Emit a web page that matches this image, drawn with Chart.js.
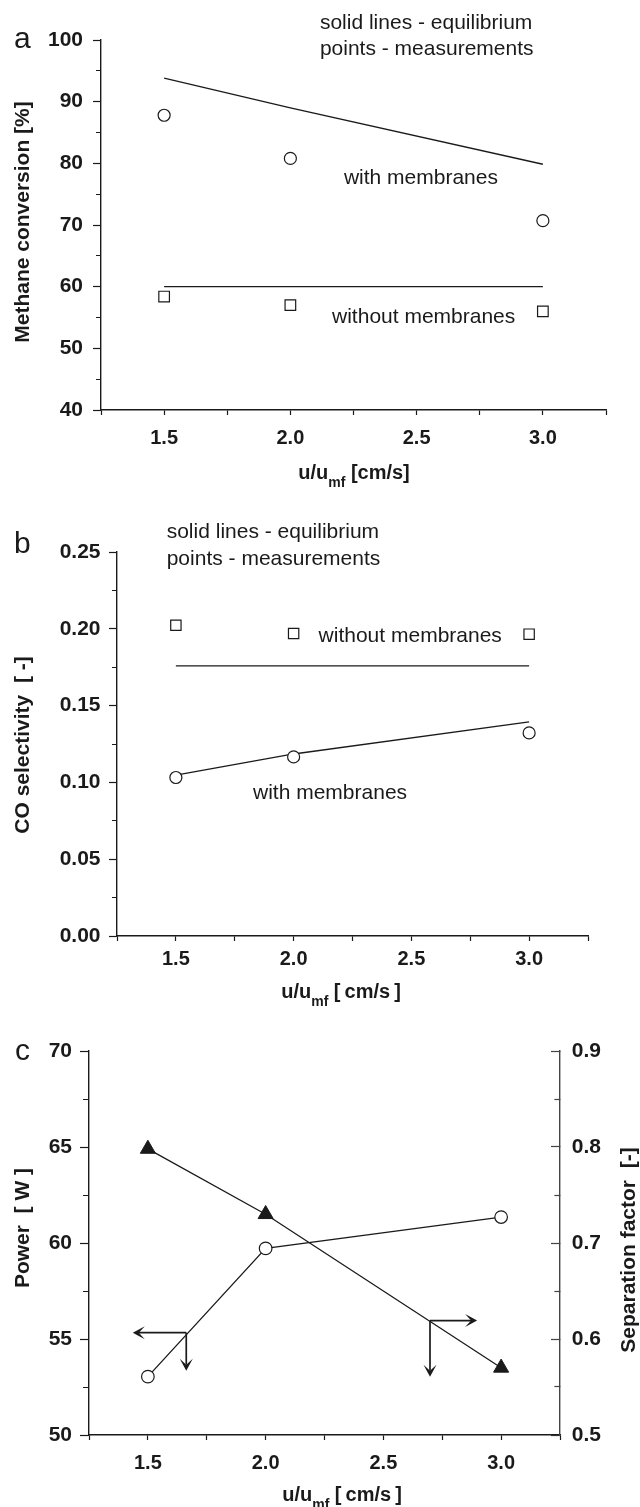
<!DOCTYPE html>
<html lang="en">
<head>
<meta charset="UTF-8">
<title>Methane conversion, CO selectivity and power vs u/umf</title>
<script src="https://cdn.jsdelivr.net/npm/chart.js"></script>
<style>
  body { margin: 0; background: #fff; }
  #wrap { position: relative; width: 640px; height: 1507px; overflow: hidden; }
  canvas { position: absolute; left: 0; }
</style>
</head>
<body>
<div id="wrap">
  <canvas id="chartA" width="640" height="500" style="top:0px"></canvas>
  <canvas id="chartB" width="640" height="512" style="top:500px"></canvas>
  <canvas id="chartC" width="640" height="502" style="top:1005px"></canvas>
</div>

<script>
// shared x values, u/umf
const uVals = [1.5, 2.0, 3.0];

// (a) methane conversion [%]
const convWithMeas = [87.8, 80.8, 70.7];
const convWithoutMeas = [58.4, 57.0, 56.0];
const convWithEq = [93.8, 89.0, 79.85];
const convWithoutEq = [60.0, 60.0, 60.0];

// (b) CO selectivity [-]
const coWithoutMeas = [0.2023, 0.1969, 0.1965];
const coWithMeas = [0.1032, 0.1166, 0.1322];
const coWithoutEq = [0.1758, 0.1758, 0.1758];
const coWithEq = [0.1047, 0.1185, 0.1394];

// (c) power [W] and separation factor [-]
const power = [53.04, 59.72, 61.35];
const sepFactor = [0.798, 0.730, 0.570];

const fam = "'Liberation Sans', Arial, Helvetica, sans-serif";
const ink = '#1a1a1a';
Chart.defaults.font.family = fam;
Chart.defaults.color = ink;

const pts = (xs, ys) => xs.map((x, i) => ({ x: x, y: ys[i] }));

function markers(data, style, r, fill, axis) {
  return {
    data: data, showLine: false, yAxisID: axis || 'y',
    pointStyle: style, pointRadius: r, pointHoverRadius: r,
    pointBackgroundColor: fill, pointBorderColor: ink, pointBorderWidth: 1.2
  };
}
function curve(data, axis, pointOpts) {
  return Object.assign({
    data: data, showLine: true, yAxisID: axis || 'y',
    borderColor: ink, borderWidth: 1.3, pointRadius: 0, fill: false
  }, pointOpts || {});
}

function xAxis(h, pad) {
  return {
    type: 'linear', min: 1.25, max: 3.25,
    border: { color: ink, width: 1.4 },
    grid: { drawOnChartArea: false, tickLength: 5, tickWidth: 1.2, tickColor: ink },
    ticks: {
      stepSize: 0.25, autoSkip: false, maxRotation: 0, padding: pad, color: ink,
      font: { size: 20, weight: 'bold' },
      callback: v => Math.abs(v * 2 - Math.round(v * 2)) < 1e-6 ? v.toFixed(1) : ''
    },
    afterFit: s => { s.height = h; }
  };
}

// y axis; isMajor decides label + long tick, minor ticks are cut with a dash
function yAxis(o) {
  const inward = o.position === 'right';
  return {
    type: 'linear', position: o.position || 'left', min: o.min, max: o.max,
    border: { color: o.borderColor || ink, width: 1.4 },
    grid: {
      drawOnChartArea: false, tickLength: inward ? -o.tl : o.tl, tickWidth: 1.2,
      tickColor: o.borderColor || ink,
      tickBorderDash: c => {
        if (o.isMajor(c.tick.value)) return [];
        return inward ? [o.minor, 60] : [0, o.tl - o.minor, 60];
      }
    },
    ticks: {
      stepSize: o.step, autoSkip: false, padding: o.pad, color: ink,
      font: { size: 21, weight: 'bold' },
      callback: v => o.isMajor(v) ? o.fmt(v) : ''
    },
    afterFit: s => { s.width = o.w; }
  };
}

function arrowHead(ctx, x, y, dx, dy) {
  const len = Math.hypot(dx, dy), ux = dx / len, uy = dy / len;
  const L = 12, W = 6.5, N = 6;
  ctx.beginPath();
  ctx.moveTo(x, y);
  ctx.lineTo(x - ux * L - uy * W, y - uy * L + ux * W);
  ctx.lineTo(x - ux * N, y - uy * N);
  ctx.lineTo(x - ux * L + uy * W, y - uy * L - ux * W);
  ctx.closePath();
  ctx.fill();
}

// titles, panel letter, notes and arrows
const deco = {
  id: 'deco',
  afterDraw(chart, args, o) {
    const ctx = chart.ctx;
    ctx.save();
    ctx.fillStyle = ink;
    ctx.strokeStyle = ink;
    ctx.textBaseline = 'alphabetic';
    ctx.textAlign = 'left';
    ctx.font = '30px ' + fam;
    ctx.fillText(o.letter[0], o.letter[1], o.letter[2]);

    for (const t of o.yTitles) {
      ctx.save();
      ctx.translate(t.x, t.y);
      ctx.rotate(-Math.PI / 2);
      ctx.font = 'bold 21px ' + fam;
      ctx.textAlign = 'center';
      ctx.textBaseline = 'middle';
      ctx.fillText(t.text, 0, 0);
      ctx.restore();
    }

    const xt = o.xTitle;
    ctx.font = 'bold 20px ' + fam;
    const w1 = ctx.measureText('u/u').width;
    const w3 = ctx.measureText(xt.rest).width;
    ctx.font = 'bold 14px ' + fam;
    const w2 = ctx.measureText('mf').width;
    const x0 = xt.x - (w1 + w2 + w3) / 2;
    ctx.font = 'bold 20px ' + fam;
    ctx.fillText('u/u', x0, xt.y);
    ctx.fillText(xt.rest, x0 + w1 + w2, xt.y);
    ctx.font = 'bold 14px ' + fam;
    ctx.fillText('mf', x0 + w1, xt.y + 8);

    const xs = chart.scales.x, ys = chart.scales.y;
    ctx.font = '21px ' + fam;
    for (const n of o.notes || []) {
      ctx.fillText(n.text, xs.getPixelForValue(n.x), ys.getPixelForValue(n.y));
    }

    ctx.lineWidth = 1.7;
    for (const a of o.arrows || []) {
      const x1 = xs.getPixelForValue(a.from[0]), y1 = ys.getPixelForValue(a.from[1]);
      const x2 = xs.getPixelForValue(a.to[0]), y2 = ys.getPixelForValue(a.to[1]);
      ctx.beginPath();
      ctx.moveTo(x1, y1);
      ctx.lineTo(x2 - Math.sign(x2 - x1) * 6, y2 - Math.sign(y2 - y1) * 6);
      ctx.stroke();
      arrowHead(ctx, x2, y2, x2 - x1, y2 - y1);
    }
    ctx.restore();
  }
};

const base = {
  responsive: false, animation: false, devicePixelRatio: 1,
  events: []
};

// (a)
new Chart(document.getElementById('chartA'), {
  type: 'scatter',
  data: {
    datasets: [
      markers(pts(uVals, convWithMeas), 'circle', 6, '#fff'),
      markers(pts(uVals, convWithoutMeas), 'rect', 7.5, '#fff'),
      curve(pts(uVals, convWithEq)),
      curve(pts(uVals, convWithoutEq))
    ]
  },
  options: Object.assign({}, base, {
    layout: { padding: { left: 0, top: 40, right: 34, bottom: 0 } },
    scales: {
      x: xAxis(90, 11.5),
      y: yAxis({ min: 40, max: 100, step: 5, tl: 8, minor: 5, pad: 10, w: 101,
        isMajor: v => v % 10 === 0, fmt: v => String(v) })
    },
    plugins: {
      legend: { display: false }, tooltip: { enabled: false },
      deco: {
        letter: ['a', 14, 48],
        yTitles: [{ text: 'Methane conversion [%]', x: 23, y: 222 }],
        xTitle: { rest: ' [cm/s]', x: 354, y: 479 },
        notes: [
          { text: 'solid lines - equilibrium', x: 2.117, y: 101.8 },
          { text: 'points - measurements', x: 2.117, y: 97.57 },
          { text: 'with membranes', x: 2.212, y: 76.65 },
          { text: 'without membranes', x: 2.165, y: 54.1 }
        ]
      }
    }
  }),
  plugins: [deco]
});

// (b)
new Chart(document.getElementById('chartB'), {
  type: 'scatter',
  data: {
    datasets: [
      markers(pts(uVals, coWithMeas), 'circle', 6, '#fff'),
      markers(pts(uVals, coWithoutMeas), 'rect', 7.3, '#fff'),
      curve(pts(uVals, coWithEq)),
      curve(pts(uVals, coWithoutEq))
    ]
  },
  options: Object.assign({}, base, {
    layout: { padding: { left: 0, top: 52, right: 52, bottom: 0 } },
    scales: {
      x: xAxis(76, 6),
      y: yAxis({ min: 0, max: 0.25, step: 0.025, tl: 8, minor: 5, pad: 8.5, w: 117,
        isMajor: v => Math.round(v * 1000) % 50 === 0, fmt: v => v.toFixed(2) })
    },
    plugins: {
      legend: { display: false }, tooltip: { enabled: false },
      deco: {
        letter: ['b', 14, 53],
        yTitles: [{ text: 'CO selectivity  [ -]', x: 23, y: 245 }],
        xTitle: { rest: ' [\u2009cm/s\u2009]', x: 341, y: 498 },
        notes: [
          { text: 'solid lines - equilibrium', x: 1.461, y: 0.2589 },
          { text: 'points - measurements', x: 1.461, y: 0.2413 },
          { text: 'without membranes', x: 2.106, y: 0.1916 },
          { text: 'with membranes', x: 1.8275, y: 0.0891 }
        ]
      }
    }
  }),
  plugins: [deco]
});

// (c)
new Chart(document.getElementById('chartC'), {
  type: 'scatter',
  data: {
    datasets: [
      curve(pts(uVals, power), 'y', {
        pointStyle: 'circle', pointRadius: 6.3, pointBackgroundColor: '#fff',
        pointBorderColor: ink, pointBorderWidth: 1.2
      }),
      curve(pts(uVals, sepFactor), 'y1', {
        pointStyle: 'triangle', pointRadius: 8.7, pointBackgroundColor: ink,
        pointBorderColor: ink, pointBorderWidth: 1
      })
    ]
  },
  options: Object.assign({}, base, {
    layout: { padding: { left: 0, top: 46, right: 0, bottom: 0 } },
    scales: {
      x: xAxis(72, 11),
      y: yAxis({ min: 50, max: 70, step: 2.5, tl: 9, minor: 6, pad: 8, w: 89,
        isMajor: v => v % 5 === 0, fmt: v => String(v) }),
      y1: yAxis({ position: 'right', min: 0.5, max: 0.9, step: 0.05, tl: 9, minor: 6,
        pad: 20.7, w: 80, borderColor: '#444',
        isMajor: v => Math.round(v * 100) % 10 === 0, fmt: v => v.toFixed(1) })
    },
    plugins: {
      legend: { display: false }, tooltip: { enabled: false },
      deco: {
        letter: ['c', 15, 55],
        yTitles: [
          { text: 'Power  [ W ]', x: 23, y: 223 },
          { text: 'Separation factor  [-]', x: 629, y: 245 }
        ],
        xTitle: { rest: ' [\u2009cm/s\u2009]', x: 342, y: 496 },
        arrows: [
          { from: [1.663, 55.33], to: [1.436, 55.33] },
          { from: [1.663, 55.33], to: [1.663, 53.35] },
          { from: [2.698, 55.96], to: [2.898, 55.96] },
          { from: [2.698, 55.96], to: [2.698, 53.04] }
        ]
      }
    }
  }),
  plugins: [deco]
});
</script>
</body>
</html>
